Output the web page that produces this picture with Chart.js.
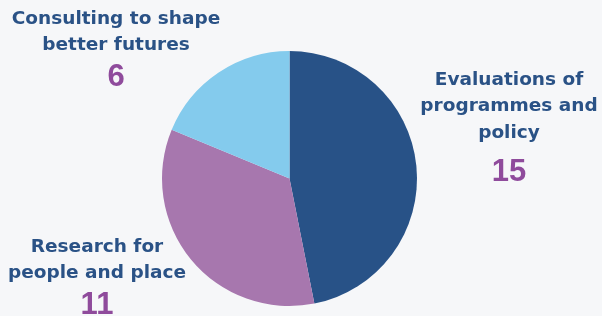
<!DOCTYPE html>
<html>
<head>
<meta charset="utf-8">
<script src="https://cdn.jsdelivr.net/npm/chart.js@4"></script>
<style>
  html, body { margin: 0; padding: 0; background: #f6f7f9; }
  #wrap { width: 602px; height: 316px; position: relative; }
</style>
</head>
<body>
<div id="wrap"><canvas id="myChart" width="602" height="316"></canvas></div>
<script>
// Datos del gráfico
const categorias = ['Evaluations of programmes and policy', 'Research for people and place', 'Consulting to shape better futures'];
const valores = [15, 11, 6];
const colores = ['#285287', '#a777ae', '#84cbed'];

// Etiquetas en varias líneas y su posición
const lineasEtiqueta = [
    ['Evaluations of', 'programmes and', 'policy'],
    ['Research for', 'people and place'],
    ['Consulting to shape', 'better futures']
];
const posEtiqueta = [
    { x: 509, y: 80, numY: 172 },
    { x: 97, y: 247, numY: 305 },
    { x: 116, y: 19, numY: 77 }
];

// Plugin para dibujar las etiquetas de texto fuera del gráfico
const etiquetasPlugin = {
    id: 'etiquetas',
    afterDraw(chart) {
        const ctx = chart.ctx;
        ctx.save();
        ctx.textAlign = 'center';
        ctx.textBaseline = 'middle';
        lineasEtiqueta.forEach((lineas, i) => {
            const p = posEtiqueta[i];
            ctx.fillStyle = '#2a5286';
            ctx.font = 'bold 18.5px "DejaVu Sans"';
            lineas.forEach((txt, j) => {
                ctx.fillText(txt, p.x, p.y + j * 26.5);
            });
            ctx.fillStyle = '#8f4b9c';
            ctx.font = 'bold 31px "Liberation Sans"';
            ctx.fillText(String(valores[i]), p.x, p.numY);
        });
        ctx.restore();
    }
};

const canvas = document.getElementById('myChart');
new Chart(canvas, {
    type: 'pie',
    data: {
        labels: categorias,
        datasets: [{
            data: valores,
            backgroundColor: colores,
            borderWidth: 0
        }]
    },
    options: {
        responsive: false,
        animation: false,
        layout: { padding: { top: 51, bottom: 10, left: 162, right: 185 } },
        plugins: {
            legend: { display: false },
            tooltip: { enabled: false }
        }
    },
    plugins: [etiquetasPlugin]
});
</script>
</body>
</html>
